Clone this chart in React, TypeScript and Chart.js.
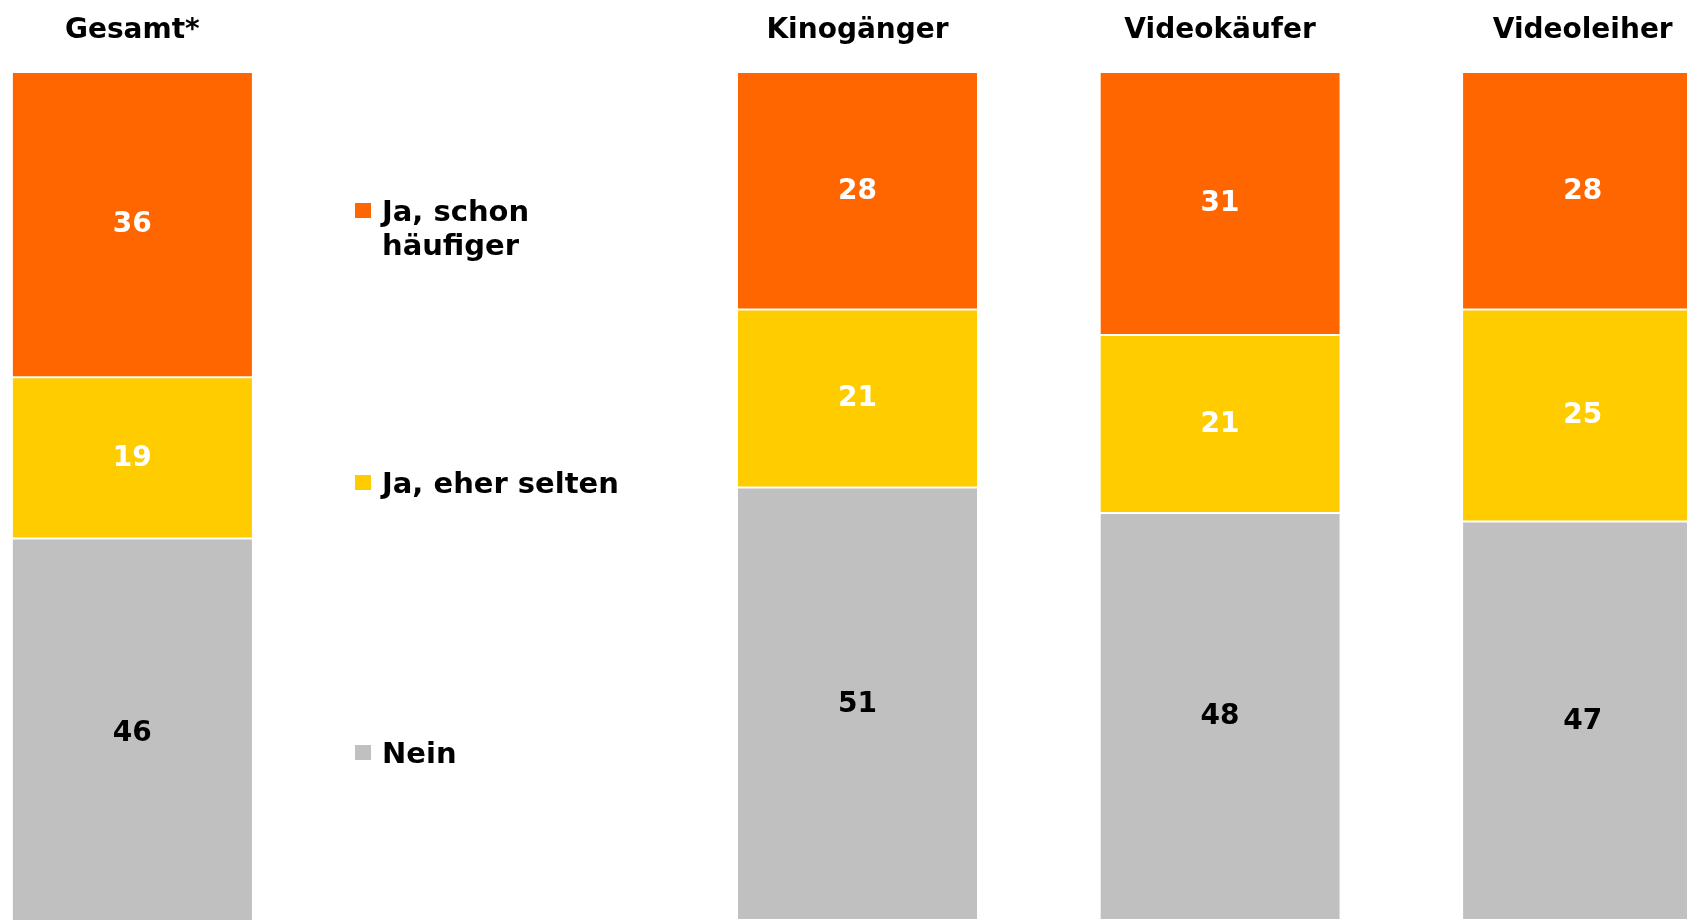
import React, { useEffect, useRef } from "react";
import { Chart, registerables } from "chart.js";

Chart.register(...registerables);

// ---- data ----
const categories = ["Gesamt*", "", "Kinogänger", "Videokäufer", "Videoleiher"];
const seriesLabels = ["Ja, schon häufiger", "Ja, eher selten", "Nein"];
const jaHaeufiger = [36, null, 28, 31, 28];
const jaSelten = [19, null, 21, 21, 25];
const nein = [46, null, 51, 48, 47];
const seriesColors = ["#FF6600", "#FFCC00", "#C0C0C0"];
const valueLabelColors = ["#FFFFFF", "#FFFFFF", "#000000"];
const legendLines = [["Ja, schon", "häufiger"], ["Ja, eher selten"], ["Nein"]];
const legendBaselines = [221, 493, 763];

// ---- layout ----
const FONT = '"DejaVu Sans", Verdana, sans-serif';
const OFFSET_X = 49;
const CANVAS_W = 1813;
const CANVAS_H = 920;

const customDraw = {
  id: "customDraw",
  afterDatasetsDraw(chart: any) {
    const ctx = chart.ctx as CanvasRenderingContext2D;
    ctx.save();
    // value labels
    ctx.textAlign = "center";
    ctx.textBaseline = "middle";
    ctx.font = `bold 28px ${FONT}`;
    chart.data.datasets.forEach((ds: any, di: number) => {
      const meta = chart.getDatasetMeta(di);
      meta.data.forEach((el: any, i: number) => {
        const v = ds.data[i];
        if (v == null) return;
        const p = el.getProps(["x", "y", "base"], true);
        ctx.fillStyle = valueLabelColors[di];
        ctx.fillText(String(v), p.x, (p.y + p.base) / 2 + 0.5);
      });
    });
    // category titles
    const xs = chart.scales.x;
    ctx.fillStyle = "#000000";
    ctx.textBaseline = "alphabetic";
    categories.forEach((c, i) => {
      if (c) ctx.fillText(c, xs.getPixelForValue(i), 38);
    });
    // legend
    ctx.textAlign = "left";
    ctx.font = `bold 29px ${FONT}`;
    legendLines.forEach((lines, li) => {
      const base = legendBaselines[li];
      ctx.fillStyle = seriesColors[li];
      ctx.fillRect(355 + OFFSET_X, base - 18, 16, 15);
      ctx.fillStyle = "#000000";
      lines.forEach((t, k) => ctx.fillText(t, 382 + OFFSET_X, base + k * 34));
    });
    ctx.restore();
  },
};

export default function App() {
  const ref = useRef<HTMLCanvasElement | null>(null);
  useEffect(() => {
    if (!ref.current) return;
    const series = [jaHaeufiger, jaSelten, nein];
    const chart = new Chart(ref.current, {
      type: "bar",
      data: {
        labels: categories,
        datasets: series.map((d, i) => ({
          label: seriesLabels[i],
          data: d,
          backgroundColor: seriesColors[i],
          borderColor: "#FFFFFF",
          borderWidth: { top: 1, bottom: 1, left: 0, right: 0 },
          borderSkipped: false,
          barPercentage: 0.66,
          categoryPercentage: 1,
        })),
      },
      options: {
        responsive: false,
        animation: false,
        devicePixelRatio: 1,
        layout: { padding: { top: 72, left: 0, right: 0, bottom: 0 } },
        plugins: { legend: { display: false }, tooltip: { enabled: false } },
        scales: {
          x: { stacked: true, display: false },
          y: { stacked: true, display: false, reverse: true, min: 0, max: 100 },
        },
      },
      plugins: [customDraw],
    });
    return () => chart.destroy();
  }, []);
  return (
    <div
      style={{
        position: "fixed",
        left: 0,
        top: 0,
        width: 1687,
        height: 920,
        overflow: "hidden",
        background: "#FFFFFF",
      }}
    >
      <canvas
        ref={ref}
        width={CANVAS_W}
        height={CANVAS_H}
        style={{ position: "absolute", left: -OFFSET_X, top: 0, width: CANVAS_W, height: CANVAS_H }}
      />
    </div>
  );
}
